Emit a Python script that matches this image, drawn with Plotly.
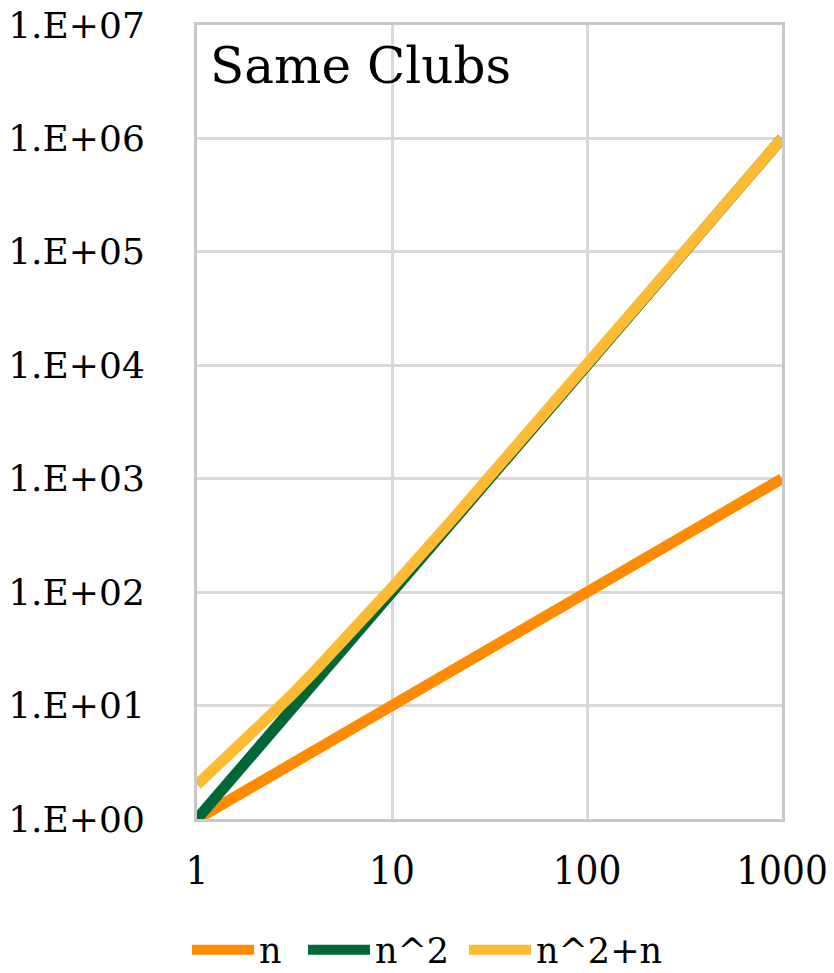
import plotly.graph_objects as go

# Problem sizes and the three cost curves
n_values = [1, 2, 3, 4, 5, 6, 7, 8, 9, 10,
            20, 30, 40, 50, 60, 70, 80, 90, 100,
            200, 300, 400, 500, 600, 700, 800, 900, 1000]
cost_n = [1, 2, 3, 4, 5, 6, 7, 8, 9, 10,
          20, 30, 40, 50, 60, 70, 80, 90, 100,
          200, 300, 400, 500, 600, 700, 800, 900, 1000]
cost_n2 = [1, 4, 9, 16, 25, 36, 49, 64, 81, 100,
           400, 900, 1600, 2500, 3600, 4900, 6400, 8100, 10000,
           40000, 90000, 160000, 250000, 360000, 490000, 640000, 810000, 1000000]
cost_n2_plus_n = [2, 6, 12, 20, 30, 42, 56, 72, 90, 110,
                  420, 930, 1640, 2550, 3660, 4970, 6480, 8190, 10100,
                  40200, 90300, 160400, 250500, 360600, 490700, 640800, 810900, 1001000]

series_names = ["n", "n^2", "n^2+n"]
series_colors = ["#FF8C00", "#006837", "#FDBB33"]

x_tick_vals = [1, 10, 100, 1000]
x_tick_text = ["1", "10", "100", "1000"]
y_tick_vals = [1, 10, 100, 1000, 10000, 100000, 1000000, 10000000]
y_tick_text = ["1.E+00", "1.E+01", "1.E+02", "1.E+03",
               "1.E+04", "1.E+05", "1.E+06", "1.E+07"]

SERIF = "DejaVu Serif, Liberation Serif, serif"
COND = "DejaVu Serif Condensed, Liberation Serif, serif"

W, H = 834, 973

fig = go.Figure()
legend_ids = ["legend", "legend2", "legend3"]
for name, ys, color, lg in zip(series_names, [cost_n, cost_n2, cost_n2_plus_n],
                               series_colors, legend_ids):
    fig.add_trace(go.Scatter(
        x=n_values, y=ys, name=name, mode="lines",
        line=dict(color=color, width=11), legend=lg,
    ))

# one legend box per series so each entry sits at its own spot
legend_left_px = [187, 303, 464]
legend_style = dict(
    orientation="h", xref="container", yref="container",
    y=(H - 950) / H, yanchor="middle", xanchor="left",
    font=dict(family=SERIF, size=35, color="black"),
    itemwidth=62, bgcolor="rgba(0,0,0,0)",
)

fig.update_layout(
    width=W, height=H,
    margin=dict(l=197, r=52, t=25, b=154, autoexpand=False),
    plot_bgcolor="white", paper_bgcolor="white",
    showlegend=True,
    legend=dict(legend_style, x=legend_left_px[0] / W),
    legend2=dict(legend_style, x=legend_left_px[1] / W),
    legend3=dict(legend_style, x=legend_left_px[2] / W),
    annotations=[dict(
        text="Same Clubs", xref="paper", yref="paper", x=0.018, y=0.988,
        xanchor="left", yanchor="top", showarrow=False,
        font=dict(family=SERIF, size=50, color="black"),
    )],
)

fig.update_xaxes(
    type="log", range=[0, 3],
    tickvals=x_tick_vals, ticktext=x_tick_text,
    tickfont=dict(family=COND, size=40, color="black"),
    showgrid=True, gridcolor="#D9D9D9", gridwidth=3,
    showline=True, linecolor="#C8C8C8", linewidth=3, mirror=True,
    ticks="", ticklabelstandoff=14, zeroline=False, automargin=False,
)
fig.update_yaxes(
    type="log", range=[0, 7],
    tickvals=y_tick_vals, ticktext=y_tick_text,
    tickfont=dict(family=SERIF, size=36, color="black"),
    showgrid=True, gridcolor="#D9D9D9", gridwidth=3,
    showline=True, linecolor="#C8C8C8", linewidth=3, mirror=True,
    ticks="", ticklabelstandoff=42, zeroline=False, automargin=False,
)

fig.write_html("out.html")
